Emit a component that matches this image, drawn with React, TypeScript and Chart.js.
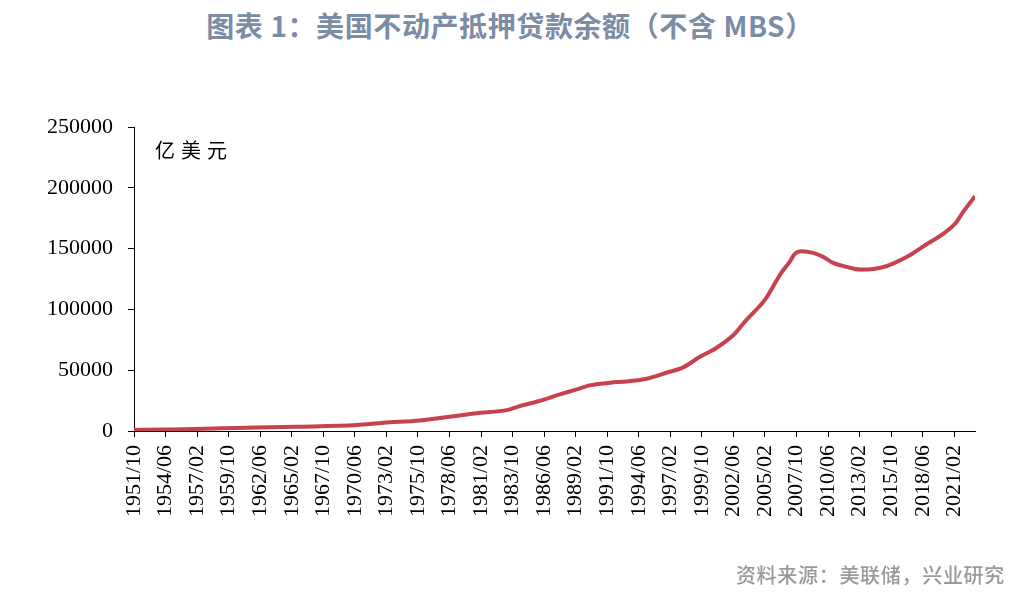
import React, { useEffect, useRef } from "react";
import { Chart, registerables } from "chart.js";

Chart.register(...registerables);

const TITLE = "图表 1：美国不动产抵押贷款余额（不含 MBS）";
const SOURCE = "资料来源：美联储，兴业研究";
const UNIT = "亿美元";

const DATES = [
  "1951/10", "1954/06", "1957/01", "1961/04", "1965/06", "1970/08", "1972/11",
  "1975/12", "1978/06", "1981/01", "1983/04", "1984/05", "1986/02", "1987/10",
  "1989/03", "1990/04", "1992/01", "1993/06", "1995/02", "1996/10", "1998/03",
  "1999/08", "2001/01", "2002/06", "2003/07", "2005/02", "2006/06", "2007/03",
  "2007/08", "2008/03", "2009/03", "2010/01", "2010/11", "2012/01", "2013/02",
  "2014/04", "2015/05", "2017/02", "2018/10", "2020/03", "2021/03", "2021/11",
  "2022/11",
];

const VALUES = [
  820, 1200, 1640, 2700, 3500, 4900, 6800,
  8600, 11700, 15000, 17200, 20500, 24900, 30100,
  34200, 37500, 39700, 40800, 43000, 47900, 52300,
  61000, 68500, 78900, 91200, 108000, 129500, 139100,
  145400, 147800, 146500, 143200, 138300, 135000, 132800,
  133300, 135500, 143200, 153600, 162400, 170600, 180200,
  193000,
];

const X_TICK_LABELS = [
  "1951/10", "1954/06", "1957/02", "1959/10", "1962/06", "1965/02", "1967/10",
  "1970/06", "1973/02", "1975/10", "1978/06", "1981/02", "1983/10", "1986/06",
  "1989/02", "1991/10", "1994/06", "1997/02", "1999/10", "2002/06", "2005/02",
  "2007/10", "2010/06", "2013/02", "2015/10", "2018/06", "2021/02",
];

const Y_MAX = 250000;
const Y_STEP = 50000;

function toMonths(label: string): number {
  const [y, m] = label.split("/").map(Number);
  return (y - 1951) * 12 + (m - 10);
}

const unitPlugin = {
  id: "unitLabel",
  afterDraw(chart: any) {
    const { ctx, chartArea } = chart;
    ctx.save();
    ctx.font = '20px "Noto Sans CJK SC"';
    ctx.fillStyle = "#000";
    ctx.textBaseline = "middle";
    ctx.textAlign = "left";
    const chars = Array.from(UNIT);
    let x = chartArea.left + 21;
    const y = chartArea.top + 23;
    chars.forEach((c) => {
      ctx.fillText(c, x, y);
      x += 26;
    });
    ctx.restore();
  },
};

export default function App() {
  const ref = useRef<HTMLCanvasElement | null>(null);

  useEffect(() => {
    if (!ref.current) return;
    const data = DATES.map((d, i) => ({ x: toMonths(d), y: VALUES[i] }));
    const tickFont = { family: '"Liberation Serif", "Times New Roman", serif', size: 22 };
    const chart = new Chart(ref.current, {
      type: "line",
      data: {
        datasets: [
          {
            data,
            borderColor: "#c8414f",
            backgroundColor: "#c8414f",
            borderWidth: 4,
            pointRadius: 0,
            cubicInterpolationMode: "monotone",
            fill: false,
          },
        ],
      },
      options: {
        animation: false,
        responsive: false,
        layout: { padding: { top: 127, right: 43, left: 0, bottom: 0 } },
        plugins: { legend: { display: false }, tooltip: { enabled: false }, title: { display: false } },
        scales: {
          x: {
            type: "linear",
            min: toMonths(DATES[0]),
            max: toMonths(DATES[DATES.length - 1]),
            afterBuildTicks: (scale: any) => {
              scale.ticks = X_TICK_LABELS.map((l) => ({ value: toMonths(l) }));
            },
            afterFit: (scale: any) => {
              scale.height = 171;
            },
            grid: { display: true, drawOnChartArea: false, drawTicks: true, tickLength: 6, color: "#000" },
            border: { display: true, color: "#000", width: 1 },
            ticks: {
              autoSkip: false,
              minRotation: 90,
              maxRotation: 90,
              padding: 8,
              color: "#000",
              font: tickFont,
              callback: (_v: any, i: number) => X_TICK_LABELS[i],
            },
          },
          y: {
            min: 0,
            max: Y_MAX,
            afterFit: (scale: any) => {
              scale.width = 134;
            },
            grid: { display: true, drawOnChartArea: false, drawTicks: true, tickLength: 6, color: "#000" },
            border: { display: true, color: "#000", width: 1 },
            ticks: {
              stepSize: Y_STEP,
              padding: 15,
              color: "#000",
              font: tickFont,
              callback: (v: any) => String(v),
            },
          },
        },
      },
      plugins: [unitPlugin],
    } as any);
    return () => chart.destroy();
  }, []);

  return (
    <div
      style={{
        position: "fixed",
        left: 0,
        top: 0,
        width: 1018,
        height: 602,
        background: "#fff",
        overflow: "hidden",
      }}
    >
      <div
        style={{
          position: "absolute",
          left: 0,
          top: 6,
          width: 1020,
          textAlign: "center",
          fontFamily: '"Noto Sans CJK SC", sans-serif',
          fontWeight: 700,
          fontSize: 28,
          letterSpacing: "0.6px",
          lineHeight: "38px",
          color: "#7b8ca5",
          whiteSpace: "nowrap",
        }}
      >
        {TITLE}
      </div>
      <canvas ref={ref} width={1018} height={602} style={{ position: "absolute", left: 0, top: 0 }} />
      <div
        style={{
          position: "absolute",
          right: 13,
          top: 561,
          fontFamily: '"Noto Sans CJK SC", sans-serif',
          fontWeight: 500,
          fontSize: 20,
          letterSpacing: "0.7px",
          lineHeight: "28px",
          color: "#999",
          whiteSpace: "nowrap",
        }}
      >
        {SOURCE}
      </div>
    </div>
  );
}
